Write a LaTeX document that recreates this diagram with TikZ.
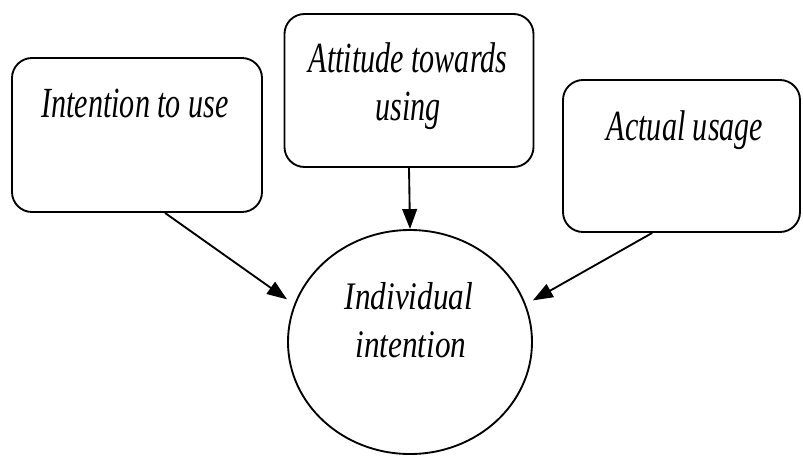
\documentclass[tikz,border=0pt]{standalone}
\usepackage{fontspec}
\usetikzlibrary{shapes.geometric,arrows.meta}
\newfontfamily\condit[FakeStretch=0.7]{Liberation Serif}
\newfontfamily\circit[FakeStretch=0.8]{Liberation Serif}
\begin{document}
\begin{tikzpicture}[x=0.75pt,y=-0.75pt,
  boxstyle/.style={draw,line width=1.4pt,rounded corners=15pt,inner sep=0pt},
  boxtext/.style={anchor=base,inner sep=0pt,font=\condit\itshape\fontsize{32.25pt}{38pt}\selectfont},
  circtext/.style={anchor=base,inner sep=0pt,font=\circit\itshape\fontsize{29.25pt}{34pt}\selectfont},
  arr/.style={line width=1.4pt,-{Triangle[length=15pt,width=11pt]}}]
\useasboundingbox (0,0) rectangle (803,455);
\node[boxstyle,minimum width=187.5pt,minimum height=115.5pt] (ibox) at (137,135) {};
\node[boxstyle,minimum width=186.75pt,minimum height=114.75pt] (mbox) at (409,90.5) {};
\node[boxstyle,minimum width=177.75pt,minimum height=114pt] (abox) at (681.5,156) {};
\node[ellipse,draw,line width=1.4pt,inner sep=0pt,minimum width=183pt,minimum height=168pt] (ell) at (410,342) {};
\node[boxtext] (t1) at (135,117) {Intention to use};
\node[boxtext] (t2a) at (408,72) {Attitude towards};
\node[boxtext] (t2b) at (408,120) {using};
\node[boxtext] (t3) at (685,140) {Actual usage};
\node[circtext] (t4a) at (409,309) {Individual};
\node[circtext] (t4b) at (411,357) {intention};
\draw[arr,shorten >=6.5pt] ([xshift=21pt]ibox.south) -- (ell.162);
\draw[arr] (mbox.south) -- (ell.north);
\draw[arr,shorten >=6pt] ([xshift=-22pt]abox.south) -- (ell.18);
\end{tikzpicture}
\end{document}
